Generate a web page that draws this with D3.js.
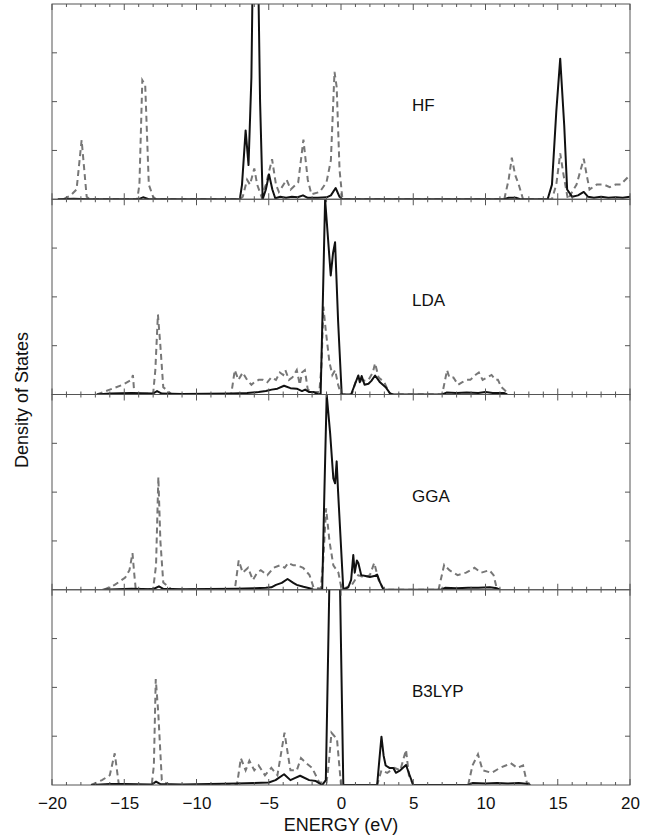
<!DOCTYPE html>
<html><head><meta charset="utf-8">
<script src="https://cdn.jsdelivr.net/npm/d3@7"></script>
<style>body{margin:0;background:#fff}svg{display:block}text{font-family:"Liberation Sans",Arial,Helvetica,sans-serif;fill:#111}</style>
</head><body>
<script>
const methods = ["HF","LDA","GGA","B3LYP"];
const xTickLabels = [-20,-15,-10,-5,0,5,10,15,20];
const yTicks = [1,2,3];

const hfSolid = [[-19.6,0],[-18.5,0.01],[-17.5,0],[-14.0,0],[-13.7,0.04],[-13.3,0],[-7.0,0],[-6.85,0.3],[-6.6,1.41],[-6.4,0.7],[-6.2,2.5],[-6.05,6],[-5.8,6],[-5.6,2.0],[-5.42,0],[-5.2,0.2],[-4.98,0.51],[-4.75,0.2],[-4.55,0.02],[-4.2,0.05],[-3.8,0.03],[-3.4,0.05],[-3.0,0.04],[-2.63,0.08],[-2.3,0.03],[-1.6,0.03],[-1.0,0.04],[-0.7,0.08],[-0.37,0.23],[-0.1,0.05],[0.1,0],[11.3,0],[11.6,0.03],[12.1,0.03],[12.4,0],[14.3,0],[14.6,0.3],[14.9,1.8],[15.17,2.88],[15.45,1.5],[15.65,0.2],[16.0,0.05],[16.4,0.08],[16.8,0.15],[17.1,0.05],[17.5,0.03],[18.0,0.05],[18.5,0.03],[19.0,0.04],[19.5,0.03],[20,0.05]];
const hfDashed = [[-19.2,0],[-18.7,0.08],[-18.3,0.2],[-17.95,1.21],[-17.6,0.05],[-17.4,0],[-14.1,0],[-13.95,0.3],[-13.75,2.44],[-13.55,2.34],[-13.3,0.3],[-13.0,0.05],[-12.8,0],[-7.0,0],[-6.8,0.05],[-6.5,0.4],[-6.3,0.3],[-6.0,0.63],[-5.8,0.3],[-5.5,0.05],[-5.2,0.3],[-4.77,0.82],[-4.5,0.3],[-4.3,0.15],[-3.76,0.4],[-3.48,0.2],[-2.96,0.35],[-2.6,1.22],[-2.3,0.4],[-2.05,0.1],[-1.47,0.15],[-1.0,0.35],[-0.7,0.8],[-0.45,2.61],[-0.3,2.3],[-0.1,0.6],[0.1,0],[11.3,0],[11.6,0.4],[11.82,0.85],[12.05,0.5],[12.3,0.3],[12.6,0],[14.6,0],[14.9,0.3],[15.17,0.94],[15.4,0.5],[15.7,0],[16.3,0.3],[16.8,0.83],[17.0,0.5],[17.2,0.2],[17.7,0.3],[18.2,0.3],[18.6,0.25],[19.0,0.3],[19.35,0.3],[19.85,0.45],[20,0.38]];

const ldaSolid = [[-16.9,0],[-16,0.02],[-14.5,0.03],[-13.0,0.02],[-12.73,0.07],[-12.4,0.02],[-11,0.01],[-7.6,0.02],[-6.5,0.03],[-5.7,0.05],[-5.2,0.07],[-4.8,0.1],[-4.4,0.12],[-3.94,0.18],[-3.5,0.13],[-3.06,0.12],[-2.7,0.07],[-2.48,0.1],[-2.2,0.05],[-1.9,0.05],[-1.6,0.01],[-1.41,0],[-1.25,2.0],[-1.1,4.0],[-0.9,3.2],[-0.71,2.44],[-0.55,2.9],[-0.41,3.12],[-0.2,1.5],[0.05,0],[0.7,0],[0.95,0.2],[1.2,0.39],[1.3,0.25],[1.43,0.38],[1.63,0.2],[1.9,0.22],[2.1,0.28],[2.36,0.39],[2.7,0.25],[3.09,0.15],[3.4,0.02],[3.6,0],[7.0,0],[7.3,0.04],[8.0,0.03],[8.7,0.04],[9.5,0.03],[10.0,0.05],[10.5,0.03],[11.3,0.03],[11.5,0]];
const ldaDashed = [[-16.9,0],[-16.0,0.1],[-15.1,0.2],[-14.5,0.3],[-14.4,0.4],[-14.3,0],[-13.0,0.02],[-12.85,0.5],[-12.67,1.64],[-12.5,1.0],[-12.3,0.15],[-11.7,0],[-7.6,0],[-7.35,0.5],[-7.1,0.3],[-6.8,0.45],[-6.5,0.3],[-6.2,0.2],[-6.0,0.25],[-5.7,0.3],[-5.4,0.3],[-5.1,0.25],[-4.82,0.35],[-4.5,0.3],[-4.23,0.45],[-4.0,0.4],[-3.85,0.5],[-3.6,0.3],[-3.36,0.35],[-3.06,0.5],[-2.85,0.2],[-2.7,0.45],[-2.5,0.5],[-2.3,0.1],[-2.0,0.05],[-1.5,0.05],[-1.35,0.6],[-1.22,1.8],[-1.05,1.3],[-0.8,0.66],[-0.6,0.4],[-0.41,0.5],[-0.2,0.2],[0.0,0],[0.75,0],[1.0,0.25],[1.19,0.3],[1.5,0.28],[1.9,0.3],[2.2,0.45],[2.36,0.64],[2.6,0.35],[3.0,0.25],[3.3,0.05],[3.5,0],[7.0,0],[7.34,0.5],[7.5,0.35],[7.78,0.35],[8.1,0.2],[8.37,0.25],[8.7,0.3],[8.95,0.3],[9.3,0.4],[9.54,0.45],[9.8,0.3],[10.12,0.35],[10.42,0.4],[10.7,0.3],[10.86,0.3],[11.1,0.15],[11.3,0.1],[11.6,0]];

const ggaSolid = [[-16.5,0],[-15.5,0.01],[-14.5,0.02],[-13.0,0.01],[-12.6,0.07],[-12.3,0.02],[-11,0.01],[-7.3,0.02],[-6.0,0.03],[-5.2,0.04],[-4.82,0.05],[-4.5,0.1],[-4.1,0.14],[-3.7,0.22],[-3.3,0.14],[-3.06,0.1],[-2.6,0.06],[-2.18,0.03],[-1.9,0],[-1.3,0],[-1.15,2.0],[-0.99,4.0],[-0.75,3.2],[-0.53,2.28],[-0.41,2.18],[-0.3,2.63],[-0.2,2.0],[0.16,0],[0.5,0.05],[0.7,0.2],[0.85,0.71],[0.95,0.35],[1.1,0.6],[1.2,0.55],[1.4,0.3],[1.7,0.28],[2.0,0.26],[2.3,0.28],[2.5,0.31],[2.7,0.15],[2.95,0],[6.9,0],[7.2,0.04],[8.0,0.03],[8.8,0.04],[9.5,0.04],[10.3,0.05],[10.8,0.03],[11.0,0]];
const ggaDashed = [[-16.4,0],[-15.66,0.1],[-14.93,0.25],[-14.64,0.4],[-14.43,0.75],[-14.3,0.3],[-14.2,0],[-13.0,0.02],[-12.8,0.5],[-12.64,2.31],[-12.5,1.0],[-12.3,0.15],[-11.7,0],[-7.35,0],[-7.08,0.6],[-6.8,0.35],[-6.43,0.45],[-6.1,0.2],[-5.8,0.35],[-5.55,0.4],[-5.1,0.3],[-4.67,0.45],[-4.23,0.5],[-3.9,0.45],[-3.65,0.55],[-3.3,0.5],[-3.06,0.5],[-2.62,0.45],[-2.18,0.3],[-1.9,0.05],[-1.4,0.02],[-1.25,0.5],[-1.03,1.67],[-0.8,1.0],[-0.53,0.5],[-0.3,0.4],[-0.18,0.35],[0.05,0],[0.75,0.1],[1.19,0.3],[1.63,0.25],[2.0,0.3],[2.3,0.55],[2.6,0.2],[2.95,0],[6.75,0],[7.14,0.51],[7.5,0.4],[8.07,0.3],[8.66,0.35],[9.24,0.45],[9.7,0.35],[10.27,0.4],[10.56,0.3],[10.8,0]];

const b3lypSolid = [[-17.3,0],[-16,0.02],[-15,0.02],[-13.1,0.01],[-12.8,0.07],[-12.5,0.02],[-11,0.01],[-7.2,0.03],[-6.0,0.04],[-5.0,0.05],[-4.53,0.1],[-3.94,0.22],[-3.5,0.1],[-3.2,0.14],[-2.83,0.19],[-2.2,0.1],[-1.74,0.08],[-1.3,0],[-1.05,0.1],[-0.75,5],[-0.5,8],[-0.3,7],[-0.12,5],[0.16,0],[2.5,0],[2.65,0.5],[2.8,0.99],[2.95,0.6],[3.09,0.4],[3.35,0.35],[3.62,0.35],[3.8,0.25],[4.1,0.3],[4.5,0.41],[4.75,0.2],[5.0,0],[8.8,0],[9.1,0.04],[10,0.03],[10.8,0.04],[11.5,0.03],[12.3,0.04],[13.0,0.02],[13.1,0]];
const b3lypDashed = [[-17.3,0],[-16.54,0.1],[-16.0,0.2],[-15.66,0.65],[-15.37,0],[-13.1,0],[-12.95,0.4],[-12.82,2.17],[-12.65,1.5],[-12.4,0.1],[-11.9,0],[-7.2,0],[-6.93,0.55],[-6.6,0.3],[-6.34,0.5],[-6.0,0.3],[-5.7,0.4],[-5.26,0.2],[-4.82,0.35],[-4.4,0.2],[-3.91,1.07],[-3.5,0.3],[-3.06,0.3],[-2.77,0.55],[-2.42,0.45],[-2.0,0.35],[-1.5,0.05],[-1.0,0.05],[-0.86,0.4],[-0.66,1.07],[-0.45,1.0],[-0.28,0.95],[0.0,0],[2.5,0],[2.8,0.3],[3.2,0.25],[3.7,0.35],[4.1,0.3],[4.5,0.72],[4.7,0.2],[5.0,0],[8.8,0],[9.1,0.4],[9.48,0.63],[9.8,0.3],[10.42,0.25],[11.0,0.35],[11.4,0.4],[11.74,0.45],[12.2,0.35],[12.6,0.4],[12.9,0]];

const solidSeries = [hfSolid, ldaSolid, ggaSolid, b3lypSolid];
const dashedSeries = [hfDashed, ldaDashed, ggaDashed, b3lypDashed];

(function draw() {
const W = 665, H = 840;
const pL = 52, pR = 630, pT = 4, pB = 785;
const ph = (pB - pT) / methods.length;

const svg = d3.select("body").append("svg").attr("width", W).attr("height", H);
const x = d3.scaleLinear().domain([-20, 20]).range([pL, pR]);
const minor = d3.range(-20, 21, 1);

methods.forEach((m, i) => {
  const y0 = pT + i * ph, y1 = y0 + ph;
  const y = d3.scaleLinear().domain([0, 4]).range([y1, y0]);
  const g = svg.append("g");
  const clipId = "clip" + i;
  svg.append("clipPath").attr("id", clipId).append("rect")
    .attr("x", pL).attr("y", y0).attr("width", pR - pL).attr("height", ph);

  const line = d3.line().x(d => x(d[0])).y(d => y(d[1]));
  g.append("path").datum(dashedSeries[i]).attr("clip-path", `url(#${clipId})`)
    .attr("d", line).attr("fill", "none").attr("stroke", "#777")
    .attr("stroke-width", 2).attr("stroke-dasharray", "6,4");
  g.append("path").datum(solidSeries[i]).attr("clip-path", `url(#${clipId})`)
    .attr("d", line).attr("fill", "none").attr("stroke", "#111")
    .attr("stroke-width", 2).attr("stroke-linejoin", "round");

  const tk = g.append("g").attr("stroke", "#555").attr("stroke-width", 1);
  minor.forEach(v => {
    const len = v % 5 === 0 ? 6 : 3;
    tk.append("line").attr("x1", x(v)).attr("x2", x(v)).attr("y1", y0).attr("y2", y0 + len);
    tk.append("line").attr("x1", x(v)).attr("x2", x(v)).attr("y1", y1).attr("y2", y1 - len);
  });
  yTicks.forEach(v => {
    tk.append("line").attr("x1", pL).attr("x2", pL + 5).attr("y1", y(v)).attr("y2", y(v));
    tk.append("line").attr("x1", pR).attr("x2", pR - 5).attr("y1", y(v)).attr("y2", y(v));
  });
  g.append("rect").attr("x", pL).attr("y", y0).attr("width", pR - pL).attr("height", ph)
    .attr("fill", "none").attr("stroke", "#555").attr("stroke-width", 1);

  g.append("text").attr("x", 412).attr("y", y0 + 107).attr("font-size", 17).text(m);
});

const xa = svg.append("g").attr("transform", `translate(0,${pB})`)
  .call(d3.axisBottom(x).tickValues(xTickLabels).tickSize(0).tickPadding(12)
    .tickFormat(d => d < 0 ? "\u2212" + Math.abs(d) : String(d)));
xa.select(".domain").remove();
xa.selectAll("text").attr("font-size", 17).attr("font-family", '"Liberation Sans",Arial,sans-serif').attr("fill", "#111");

svg.append("text").attr("x", x(0)).attr("y", 831).attr("text-anchor", "middle")
  .attr("font-size", 18).text("ENERGY (eV)");
svg.append("text").attr("transform", "translate(28,400) rotate(-90)").attr("text-anchor", "middle")
  .attr("font-size", 18).text("Density of States");
})();
</script>
</body></html>
